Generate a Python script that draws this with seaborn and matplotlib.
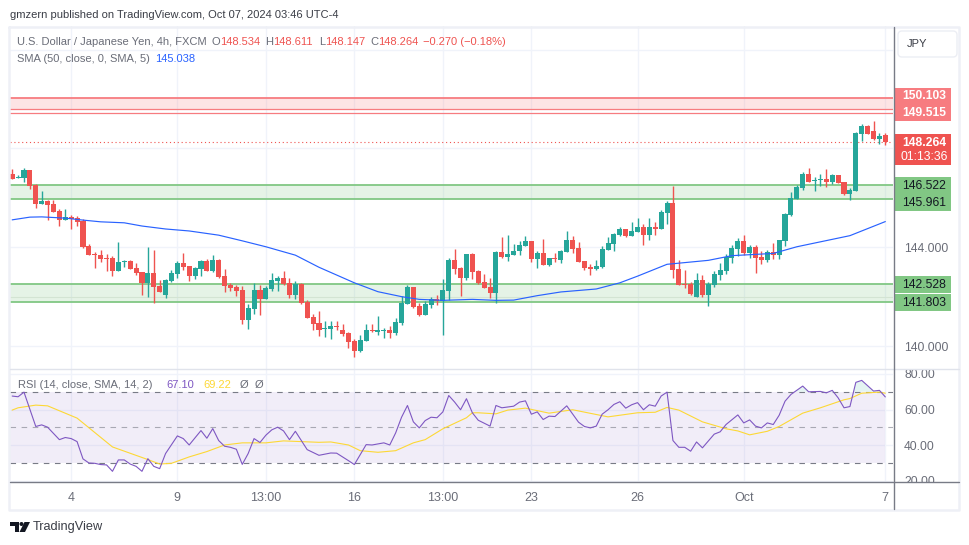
from __future__ import annotations

import matplotlib.pyplot as plt
import numpy as np
import seaborn as sns
from matplotlib.lines import Line2D
from matplotlib.patches import Circle, FancyBboxPatch, Polygon, Rectangle
from matplotlib.transforms import Affine2D, Bbox, TransformedBbox

OPEN = [
    146.96, 146.80, 146.80, 147.13, 146.52, 145.75, 145.87, 145.75, 145.47, 145.10,
    145.22, 145.18, 145.06, 144.05, 143.72, 143.68, 143.56, 143.56, 143.04, 143.40,
    143.44, 143.16, 143.00, 142.55, 142.96, 142.43, 142.06, 142.63, 142.92, 143.36,
    143.24, 142.83, 143.12, 143.44, 143.04, 143.48, 142.83, 142.47, 142.39, 142.27,
    141.05, 141.50, 142.27, 141.90, 142.31, 142.63, 142.75, 142.55, 142.06, 142.51,
    141.78, 141.17, 140.93, 140.69, 140.69, 140.81, 140.65, 140.53, 140.20, 139.80,
    140.20, 140.65, 140.57, 140.61, 140.65, 140.53, 140.93, 141.70, 142.39, 141.62,
    141.26, 141.66, 141.90, 141.82, 142.23, 143.48, 143.16, 142.75, 143.72, 143.04,
    142.59, 142.39, 142.15, 143.81, 143.60, 143.68, 143.85, 144.05, 144.25, 143.52,
    143.77, 143.28, 143.56, 143.48, 143.81, 144.29, 143.97, 143.44, 143.20, 143.12,
    143.20, 143.89, 144.13, 144.49, 144.74, 144.45, 144.62, 144.82, 144.49, 144.82,
    144.74, 145.38, 145.79, 143.12, 142.51, 142.51, 141.98, 142.67, 142.07, 142.47,
    142.87, 143.04, 143.56, 143.93, 144.25, 143.76, 144.01, 143.60, 143.48, 143.81,
    143.68, 144.24, 145.30, 145.95, 146.40, 146.96, 146.68, 146.72, 146.76, 146.64,
    146.92, 146.64, 146.15, 146.27, 148.58, 148.91, 148.70, 148.38, 148.534,
]
HIGH = [
    147.17, 146.91, 147.21, 147.13, 146.56, 146.26, 145.91, 145.91, 145.53, 145.55,
    145.30, 145.26, 145.14, 144.13, 143.81, 143.89, 143.72, 143.64, 144.21, 143.48,
    143.48, 143.36, 143.00, 144.01, 143.89, 142.67, 142.71, 143.08, 143.44, 143.76,
    143.24, 143.20, 143.48, 143.52, 143.68, 143.52, 143.12, 142.55, 142.47, 142.43,
    141.70, 142.55, 142.47, 142.43, 142.96, 142.83, 143.04, 142.75, 142.63, 142.55,
    141.86, 141.30, 141.42, 141.01, 141.01, 141.01, 140.89, 140.57, 140.28, 140.45,
    140.89, 140.89, 141.22, 140.73, 140.81, 141.13, 142.03, 142.47, 142.39, 141.74,
    141.82, 141.99, 142.07, 142.71, 143.56, 143.93, 143.20, 143.72, 143.77, 143.08,
    142.91, 142.75, 143.85, 144.41, 144.49, 144.13, 144.25, 144.45, 144.25, 143.85,
    144.33, 143.56, 143.77, 143.89, 144.66, 144.45, 144.21, 143.44, 143.32, 143.48,
    144.05, 144.41, 144.58, 144.82, 144.74, 145.02, 145.18, 144.94, 145.18, 145.02,
    145.51, 145.87, 146.48, 143.48, 143.08, 142.59, 142.96, 142.87, 142.59, 143.04,
    143.36, 143.72, 144.09, 144.37, 144.49, 144.09, 144.09, 143.85, 143.89, 144.17,
    144.29, 145.38, 146.23, 146.52, 147.04, 147.21, 146.84, 146.96, 147.17, 146.96,
    146.92, 146.64, 146.40, 148.66, 148.99, 148.95, 149.11, 148.62, 148.611,
]
LOW = [
    146.76, 146.80, 146.65, 146.36, 145.60, 145.75, 145.10, 145.43, 144.86, 145.10,
    144.74, 144.86, 143.97, 143.68, 143.16, 143.40, 143.04, 142.83, 143.04, 143.20,
    143.12, 142.87, 142.06, 141.98, 141.74, 142.19, 141.94, 142.59, 142.75, 143.08,
    142.63, 142.71, 142.83, 143.04, 143.00, 142.75, 142.19, 142.23, 142.02, 140.89,
    140.69, 141.30, 141.25, 141.90, 142.23, 142.23, 142.47, 141.94, 141.90, 141.70,
    141.13, 140.65, 140.40, 140.37, 140.28, 140.65, 140.41, 139.92, 139.56, 139.76,
    140.20, 140.57, 140.45, 140.33, 140.33, 140.45, 140.85, 141.70, 141.54, 141.22,
    141.26, 141.54, 141.66, 140.45, 141.86, 142.91, 142.03, 142.67, 142.71, 142.51,
    142.35, 141.94, 141.74, 143.56, 143.44, 143.68, 143.68, 144.05, 143.40, 143.16,
    143.28, 143.24, 143.40, 143.36, 143.81, 143.77, 143.40, 143.08, 142.87, 143.08,
    143.16, 143.89, 143.85, 144.45, 144.41, 144.45, 144.62, 144.09, 144.29, 144.49,
    144.74, 144.94, 142.75, 142.47, 142.35, 142.07, 141.98, 141.98, 141.62, 142.39,
    142.67, 142.91, 143.36, 143.64, 143.68, 143.56, 142.96, 143.32, 143.40, 143.52,
    143.52, 144.05, 145.26, 145.95, 146.32, 146.64, 146.27, 146.48, 146.44, 146.56,
    146.60, 146.11, 145.91, 146.27, 148.30, 148.58, 148.34, 148.18, 148.147,
]
CLOSE = [
    146.76, 146.84, 147.13, 146.48, 145.75, 145.87, 145.71, 145.43, 145.10, 145.22,
    145.14, 145.02, 144.01, 143.68, 143.68, 143.52, 143.52, 143.04, 143.40, 143.44,
    143.12, 142.96, 142.55, 142.96, 142.39, 142.19, 142.67, 142.96, 143.36, 143.20,
    142.83, 143.16, 143.44, 143.04, 143.48, 142.79, 142.43, 142.35, 142.23, 141.05,
    141.54, 142.27, 141.90, 142.35, 142.67, 142.75, 142.51, 142.06, 142.51, 141.74,
    141.13, 140.89, 140.65, 140.73, 140.81, 140.77, 140.49, 140.16, 139.80, 140.24,
    140.65, 140.61, 140.65, 140.65, 140.53, 140.97, 141.74, 142.39, 141.58, 141.26,
    141.70, 141.90, 141.82, 142.27, 143.48, 143.12, 142.75, 143.72, 143.00, 142.55,
    142.35, 142.15, 143.81, 143.60, 143.72, 143.85, 144.09, 144.25, 143.52, 143.77,
    143.28, 143.56, 143.52, 143.85, 144.29, 143.93, 143.40, 143.16, 143.12, 143.24,
    143.93, 144.17, 144.54, 144.74, 144.45, 144.66, 144.82, 144.49, 144.82, 144.74,
    145.42, 145.79, 143.08, 142.47, 142.47, 142.11, 142.67, 142.07, 142.51, 142.91,
    143.08, 143.60, 143.97, 144.25, 143.76, 144.01, 143.56, 143.48, 143.81, 143.68,
    144.28, 145.34, 145.99, 146.44, 146.96, 146.64, 146.72, 146.76, 146.64, 146.92,
    146.60, 146.15, 146.32, 148.62, 148.91, 148.58, 148.38, 148.50, 148.264,
]

SMA_BARS = [
    0, 3, 5, 9, 12, 15, 19, 22, 26, 30, 35, 39, 43, 48, 52, 58, 62, 66, 69, 73, 78, 82,
    85, 89, 93, 99, 103, 106, 111, 118, 122, 129, 133, 142, 148,
]
SMA_VALUES = [
    145.11, 145.22, 145.23, 145.18, 145.10, 145.03, 144.99, 144.86, 144.74, 144.66,
    144.49, 144.26, 144.02, 143.68, 143.19, 142.56, 142.20, 142.00, 141.89, 141.85,
    141.89, 141.85, 141.86, 142.04, 142.19, 142.31, 142.56, 142.83, 143.31, 143.47,
    143.66, 143.75, 144.02, 144.47, 145.04,
]

RSI_BARS = [
    0, 1, 2, 4, 5, 6, 8, 9, 10, 11, 12, 13, 14, 15, 16, 17, 18, 19, 20, 21, 22, 23, 24,
    25, 26, 28, 29, 30, 32, 33, 34, 35, 36, 37, 38, 39, 40, 41, 42, 43, 44, 45, 46, 47,
    48, 50, 52, 54, 55, 57, 58, 60, 61, 63, 64, 65, 66, 67, 68, 69, 70, 71, 72, 73, 74,
    75, 76, 77, 78, 79, 81, 82, 83, 85, 86, 87, 88, 89, 90, 91, 92, 94, 96, 97, 98, 99,
    100, 101, 102, 103, 104, 105, 106, 107, 108, 109, 110, 111, 112, 113, 114, 115, 116,
    117, 119, 120, 121, 123, 124, 125, 126, 127, 128, 129, 130, 131, 132, 134, 135, 137,
    138, 139, 140, 141, 142, 143, 144, 146, 147, 148,
]
RSI_VALUES = [
    67.6, 67.2, 69.8, 50.5, 51.4, 50.1, 43.1, 44.3, 43.7, 42.0, 32.3, 30.0, 29.8, 29.1,
    28.9, 25.3, 31.7, 31.7, 29.4, 28.1, 25.3, 32.4, 28.1, 26.8, 35.3, 45.2, 43.7, 40.1,
    48.2, 43.9, 49.3, 42.6, 39.4, 38.8, 37.7, 29.2, 35.3, 43.7, 41.5, 45.6, 48.6, 50.1,
    48.0, 43.1, 47.8, 37.5, 34.3, 35.6, 35.5, 31.3, 29.1, 40.3, 40.1, 41.3, 40.1, 46.9,
    55.7, 62.3, 53.1, 49.7, 53.8, 55.7, 55.4, 58.7, 67.9, 64.2, 59.9, 66.1, 58.2, 54.0,
    50.7, 62.3, 61.0, 61.9, 64.2, 64.9, 57.4, 58.7, 54.4, 56.3, 56.1, 62.1, 52.9, 50.5,
    49.7, 50.7, 57.4, 59.9, 62.9, 64.4, 60.8, 62.7, 63.9, 59.9, 62.7, 61.9, 67.6, 69.8,
    42.6, 38.8, 38.8, 36.6, 41.8, 38.5, 46.2, 47.5, 51.6, 57.0, 52.5, 54.2, 50.7, 49.7,
    52.5, 51.6, 56.8, 64.7, 68.5, 73.2, 70.0, 70.2, 69.4, 70.8, 66.6, 61.0, 61.7, 75.3,
    76.4, 70.4, 70.8, 67.1,
]

RSI_MA_BARS = [
    0, 1, 4, 6, 11, 17, 23, 25, 27, 30, 33, 36, 39, 43, 46, 52, 54, 57, 59, 62, 65, 68,
    70, 73, 77, 78, 79, 82, 84, 87, 91, 95, 101, 106, 109, 111, 113, 117, 121, 123, 125,
    128, 130, 134, 137, 141, 142, 144, 147, 148,
]
RSI_MA_VALUES = [
    59.7, 61.0, 62.5, 62.1, 55.2, 39.0, 31.9, 29.4, 29.8, 33.4, 36.4, 40.1, 41.3, 41.3,
    42.4, 41.6, 41.8, 40.1, 36.9, 36.0, 36.9, 41.3, 43.1, 49.2, 55.4, 58.2, 58.2, 57.6,
    59.7, 60.8, 58.0, 59.9, 55.9, 58.2, 58.5, 61.2, 59.7, 53.1, 49.2, 48.0, 45.8, 47.8,
    50.5, 58.0, 61.0, 65.5, 66.2, 69.2, 69.8, 69.2,
]

GREEN_ZONES = [(146.522, 145.961), (142.528, 141.803)]
RED_ZONE = (150.03, 149.58, 149.45)
LAST_PRICE = 148.264

TIME_TICKS = [10, 28, 43, 58, 73, 88, 106, 124, 148]
TIME_LABELS = ["4", "9", "13:00", "16", "13:00", "23", "26", "Oct", "7"]
PRICE_TICKS = [140, 144, 148, 152]
PRICE_LABELS = ["140.000", "144.000", "", ""]
RSI_TICKS = [20, 40, 60, 80]
RSI_LABELS = ["20.00", "40.00", "60.00", "80.00"]

UP = "#26a69a"
DOWN = "#ef5350"
GRID = "#f0f3fa"
AXIS = "#787b86"
TEXT = "#6a6d78"
WIDTH, HEIGHT = 970, 545


def configure_plot_style() -> None:
    """
    Configure the chart look.
    """
    sns.set_theme(style="white")
    plt.rcParams.update(
        {
            "font.family": "Liberation Sans",
            "font.size": 8,
            "axes.linewidth": 1.0,
            "figure.dpi": 100,
            "savefig.dpi": 100,
        }
    )


def px_text(fig: plt.Figure, x: float, y: float, text: str, color: str = TEXT, **kwargs) -> None:
    """
    Put a text on the figure at a pixel position.
    """
    kwargs.setdefault("fontsize", 8)
    kwargs.setdefault("ha", "left")
    fig.text(x / WIDTH, 1 - y / HEIGHT, text, color=color, va="center", **kwargs)


def px_box(fig: plt.Figure, x0: float, y0: float, x1: float, y1: float, color: str) -> None:
    """
    Add a filled price tag to the right of the plot.
    """
    fig.add_artist(
        Rectangle(
            (x0 / WIDTH, 1 - y1 / HEIGHT),
            (x1 - x0) / WIDTH,
            (y1 - y0) / HEIGHT,
            facecolor=color,
            edgecolor="none",
            transform=fig.transFigure,
        )
    )


def px_line(fig: plt.Figure, xs: list[float], ys: list[float], color: str, lw: float = 1.0) -> None:
    """
    Add a frame line to the figure.
    """
    fig.add_artist(
        Line2D(
            [x / WIDTH for x in xs],
            [1 - y / HEIGHT for y in ys],
            color=color,
            linewidth=lw,
            transform=fig.transFigure,
        )
    )


def plot_candles(ax: plt.Axes) -> None:
    """
    Draw the candles from the OHLC lists.
    """
    bars = np.arange(len(OPEN))
    opens, highs, lows, closes = map(np.asarray, (OPEN, HIGH, LOW, CLOSE))
    colors = np.where(closes >= opens, UP, DOWN)

    ax.vlines(bars, lows, highs, colors=colors, linewidth=1.0, zorder=3)
    ax.bar(
        bars,
        np.abs(closes - opens),
        bottom=np.minimum(opens, closes),
        width=0.86,
        color=colors,
        linewidth=0,
        zorder=3,
    )


def plot_zones(ax: plt.Axes) -> None:
    """
    Draw the shaded support zones and the red resistance zone.
    """
    for top, bottom in GREEN_ZONES:
        ax.axhspan(bottom, top, facecolor="#81c784", alpha=0.2, linewidth=0, zorder=1)
        ax.axhline(top, color="#81c784", linewidth=1.3, zorder=2)
        ax.axhline(bottom, color="#81c784", linewidth=1.3, zorder=2)
    ax.axhline(141.97, color="#d3e4d3", linewidth=0.8, zorder=1)

    ax.axhspan(RED_ZONE[1], RED_ZONE[0], facecolor="#f77c80", alpha=0.2, linewidth=0, zorder=1)
    ax.axhline(RED_ZONE[0], color="#f77c80", linewidth=1.3, zorder=2)
    ax.axhline(RED_ZONE[1], color="#f77c80", linewidth=0.9, zorder=2)
    ax.axhline(RED_ZONE[2], color="#f77c80", linewidth=0.9, zorder=2)

    ax.axhline(LAST_PRICE, color=DOWN, linewidth=0.8, linestyle=(0, (1, 2.5)), zorder=2)


def plot_rsi(ax: plt.Axes) -> None:
    """
    Draw the RSI panel.
    """
    bars, values = np.asarray(RSI_BARS), np.asarray(RSI_VALUES)

    ax.fill_between([-1, RSI_BARS[-1]], 30, 70, color="#7e57c2", alpha=0.1, linewidth=0, zorder=1)
    ax.fill_between(
        bars, values, 70, where=values > 70, interpolate=True, color=UP, alpha=0.12, linewidth=0
    )
    ax.axhline(70, color=AXIS, linewidth=0.8, linestyle=(0, (5, 5)), zorder=2)
    ax.axhline(50, color=AXIS, alpha=0.6, linewidth=0.8, linestyle=(0, (5, 5)), zorder=2)
    ax.axhline(30, color=AXIS, linewidth=0.8, linestyle=(0, (5, 5)), zorder=2)

    sns.lineplot(x=RSI_MA_BARS, y=RSI_MA_VALUES, ax=ax, color="#fdd835", linewidth=0.8, zorder=3)
    sns.lineplot(x=RSI_BARS, y=RSI_VALUES, ax=ax, color="#7e57c2", linewidth=0.8, zorder=4)


def style_axes(ax_price: plt.Axes, ax_rsi: plt.Axes) -> None:
    """
    Set limits, ticks and grids of both panels.
    """
    for ax in (ax_price, ax_rsi):
        ax.set_xlim(-0.37, 149.3)
        ax.set_xticks(TIME_TICKS)
        ax.grid(True, color=GRID, linewidth=1.0, zorder=0)
        ax.set_axisbelow(True)
        ax.yaxis.tick_right()
        ax.tick_params(axis="x", length=0, labelsize=9, labelcolor=TEXT)
        ax.tick_params(axis="y", length=0, labelsize=8.7, labelcolor=TEXT, pad=8)
        ax.set_xlabel("")
        ax.set_ylabel("")
        for side in ("top", "left", "right", "bottom"):
            ax.spines[side].set_visible(False)

    ax_price.set_ylim(139.07, 152.96)
    ax_price.set_yticks(PRICE_TICKS, PRICE_LABELS)
    ax_price.tick_params(axis="x", labelbottom=False)

    ax_rsi.set_ylim(19.3, 82.8)
    ax_rsi.set_yticks(RSI_TICKS, RSI_LABELS)
    ax_rsi.set_xticklabels(TIME_LABELS)
    ax_rsi.tick_params(axis="x", pad=7)

    # The lowest label is cut off by the time axis.
    clip = TransformedBbox(Bbox([[1.0, 0.0], [1.1, 1.0]]), ax_rsi.transAxes)
    for label in ax_rsi.get_yticklabels():
        label.set_clip_box(clip)
        label.set_clip_on(True)


def add_legend_texts(fig: plt.Figure) -> None:
    """
    Write the title lines of the panels and the attribution.
    """
    px_text(fig, 10, 15, "gmzern published on TradingView.com, Oct 07, 2024 03:46 UTC-4", color="#3a3d46")

    px_text(fig, 17, 42, "U.S. Dollar / Japanese Yen, 4h, FXCM")
    for x, text in ((212, "O"), (265, "H"), (319, "L"), (370, "C")):
        px_text(fig, x, 42, text)
    for x, text in ((220, "148.534"), (273, "148.611"), (325, "148.147"), (378, "148.264"), (423, "−0.270 (−0.18%)")):
        px_text(fig, x, 42, text, color=DOWN)

    px_text(fig, 17, 59, "SMA (50, close, 0, SMA, 5)")
    px_text(fig, 155, 59, "145.038", color="#2962ff")

    px_text(fig, 18, 385, "RSI (14, close, SMA, 14, 2)")
    px_text(fig, 166, 385, "67.10", color="#7e57c2")
    px_text(fig, 203, 385, "69.22", color="#fdd835")
    px_text(fig, 240, 385, "Ø")
    px_text(fig, 255, 385, "Ø")

    px_text(fig, 33, 527, "TradingView", color="#3a3d46", fontsize=9.2)
    to_px = Affine2D().scale(1, -1).translate(0, HEIGHT)
    fig.add_artist(
        Polygon(
            [(10, 522), (19, 522), (19, 532), (14.5, 532), (14.5, 526), (10, 526)],
            facecolor="#131722",
            edgecolor="none",
            transform=to_px,
        )
    )
    fig.add_artist(Circle((21.5, 524), 2.0, facecolor="#131722", edgecolor="none", transform=to_px))
    fig.add_artist(
        Polygon(
            [(24.5, 522), (30, 522), (25, 532), (19.5, 532)],
            facecolor="#131722",
            edgecolor="none",
            transform=to_px,
        )
    )


def add_price_tags(fig: plt.Figure) -> None:
    """
    Draw the coloured labels on the price scale.
    """
    px_box(fig, 895, 88, 951, 121, "#f77c80")
    px_text(fig, 924, 96, "150.103", color="white", ha="center", fontsize=8.7, fontweight="bold")
    px_text(fig, 924, 113, "149.515", color="white", ha="center", fontsize=8.7, fontweight="bold")

    px_box(fig, 895, 134, 951, 165, DOWN)
    px_text(fig, 924, 143, "148.264", color="white", ha="center", fontsize=8.7, fontweight="bold")
    px_text(fig, 924, 157, "01:13:36", color="white", ha="center", fontsize=8.7)

    px_box(fig, 895, 177, 951, 211, "#81c784")
    px_text(fig, 924, 186, "146.522", color="#131722", ha="center", fontsize=8.7)
    px_text(fig, 924, 203, "145.961", color="#131722", ha="center", fontsize=8.7)

    px_box(fig, 895, 276, 951, 293, "#81c784")
    px_text(fig, 924, 284.5, "142.528", color="#131722", ha="center", fontsize=8.7)
    px_box(fig, 895, 294, 951, 311, "#81c784")
    px_text(fig, 924, 302.5, "141.803", color="#131722", ha="center", fontsize=8.7)

    fig.add_artist(
        FancyBboxPatch(
            (898, HEIGHT - 57),
            59,
            26,
            boxstyle="round,pad=0,rounding_size=4",
            facecolor="white",
            edgecolor="#eceef4",
            linewidth=1.0,
            transform=Affine2D(),
        )
    )
    px_text(fig, 917, 44, "JPY", color="#3a3d46", ha="center")


def add_frame(fig: plt.Figure) -> None:
    """
    Draw the frame lines around the panels.
    """
    px_line(fig, [9.5, 959.5, 959.5, 9.5, 9.5], [27, 27, 510, 510, 27], "#eef0f6", lw=1.8)
    px_line(fig, [10, 959], [369, 369], "#e0e3eb", lw=1.0)
    px_line(fig, [10, 959], [482, 482], AXIS, lw=1.0)
    px_line(fig, [894, 894], [27, 509], AXIS, lw=1.0)


def main() -> None:
    """
    Create the USD/JPY chart with its RSI panel.
    """
    configure_plot_style()

    fig, (ax_price, ax_rsi) = plt.subplots(
        2, 1, figsize=(WIDTH / 100, HEIGHT / 100), sharex=True, height_ratios=[343, 113]
    )
    fig.subplots_adjust(left=10 / WIDTH, right=893 / WIDTH, top=1 - 26 / HEIGHT, bottom=1 - 482 / HEIGHT, hspace=0)

    plot_zones(ax_price)
    plot_candles(ax_price)
    sns.lineplot(x=SMA_BARS, y=SMA_VALUES, ax=ax_price, color="#2962ff", linewidth=0.85, zorder=4)
    plot_rsi(ax_rsi)
    style_axes(ax_price, ax_rsi)

    add_frame(fig)
    add_price_tags(fig)
    add_legend_texts(fig)

    fig.savefig("out.png", dpi=100)


if __name__ == "__main__":
    main()
